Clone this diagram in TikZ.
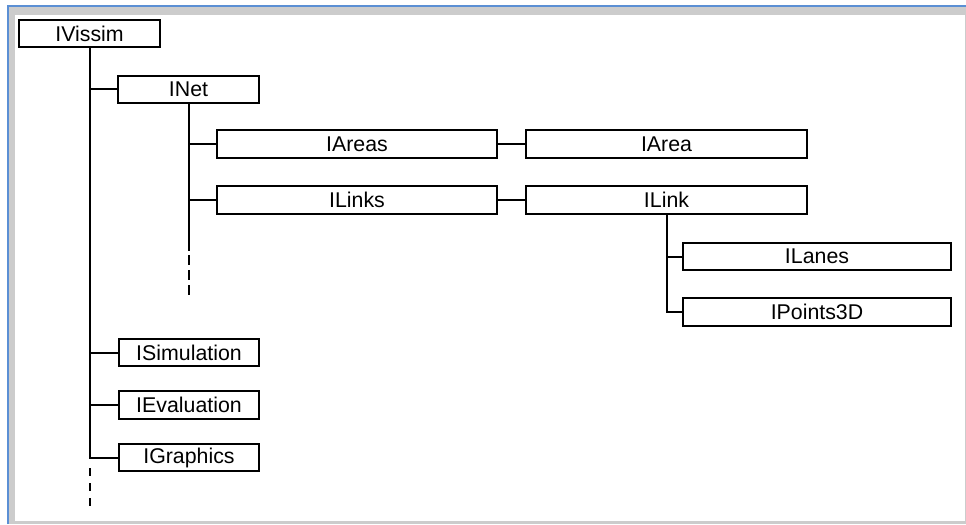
\documentclass[tikz,border=0pt]{standalone}
\usepackage{fontspec}
\setmainfont{Liberation Sans}
\usetikzlibrary{positioning}
\definecolor{frameblue}{HTML}{5B8FD4}

\begin{document}
\begin{tikzpicture}[x=0.75pt, y=-0.75pt,
  box/.style={draw, line width=1.5pt, inner sep=0pt, minimum height=20.5pt, minimum width=105.5pt, font=\fontsize{16}{18}\selectfont},
  widebox/.style={box, minimum width=210.5pt},
  wire/.style={line width=1.5pt},
  trail/.style={wire, dash pattern=on 6pt off 5.25pt}]
  % Window frame
  \useasboundingbox (0,0) rectangle (966,524);
  \fill[white] (0,0) rectangle (966,524);
  \fill[gray!40] (8,7) rectangle (966,524);
  \fill[white] (15,15) rectangle (965,521);
  \draw[line width=1.5pt, frameblue] (7.5,524) -- (7.5,6.5) -- (966,6.5);

  % Interfaces
  \node[box] (vissim) at (89.5,33.5) {IVissim};
  \node[box] (net) at (188.5,89.5) {INet};
  \node[widebox] (areas) at (357,144) {IAreas};
  \node[widebox] (area) at (666.5,144) {IArea};
  \node[widebox] (links) at (357,200) {ILinks};
  \node[widebox] (link) at (666.5,200) {ILink};
  \node[box, minimum width=200.5pt] (lanes) at (817,256.5) {ILanes};
  \node[box, minimum width=200.5pt] (points) at (817,312) {IPoints3D};
  \node[box] (simulation) at (189,352.5) {ISimulation};
  \node[box] (evaluation) at (189,405) {IEvaluation};
  \node[box] (graphics) at (189,457.5) {IGraphics};

  % Ends of the open trunks
  \coordinate (netend) at (188.5,251);
  \coordinate (netdots) at (188.5,255);
  \coordinate (netlast) at (188.5,296);
  \coordinate (vissimdots) at (89.5,468);
  \coordinate (vissimlast) at (89.5,507);

  % Tree from IVissim
  \draw[wire] (vissim.south) |- (net.west);
  \draw[wire] (vissim.south) |- (simulation.west);
  \draw[wire] (vissim.south) |- (evaluation.west);
  \draw[wire] (vissim.south) |- (graphics.west);
  \draw[trail] (vissimdots) -- (vissimlast);

  % Tree from INet
  \draw[wire] (net.south) |- (areas.west);
  \draw[wire] (net.south) |- (links.west);
  \draw[wire] (net.south) -- (netend);
  \draw[wire, dash pattern=on 7.5pt off 3.75pt] (netdots) -- (netlast);

  % Collections to items
  \draw[wire] (areas.east) -- (area.west);
  \draw[wire] (links.east) -- (link.west);

  % Tree from ILink
  \draw[wire] (link.south) |- (lanes.west);
  \draw[wire] (link.south) |- (points.west);
\end{tikzpicture}
\end{document}
